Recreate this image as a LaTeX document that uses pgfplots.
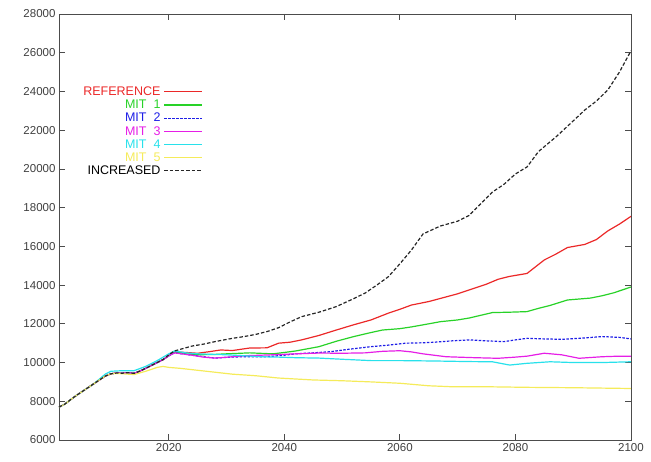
\documentclass[border=0pt]{standalone}
\usepackage{pgfplots}
\pgfplotsset{compat=1.18}
\usepackage{fontspec}
\setmainfont{Liberation Sans}
\definecolor{cred}{RGB}{235,40,40}
\definecolor{cgreen}{RGB}{40,210,40}
\definecolor{cblue}{RGB}{30,30,230}
\definecolor{cmag}{RGB}{230,30,230}
\definecolor{ccyan}{RGB}{40,225,235}
\definecolor{cyel}{RGB}{245,235,90}
\begin{document}
\begin{tikzpicture}
\useasboundingbox (-59pt,-21pt) rectangle (592pt,440pt);
\begin{axis}[
  scale only axis,
  width=572pt, height=426pt,
  at={(0,0)}, anchor=south west,
  xmin=2001, xmax=2100, ymin=6000, ymax=28000,
  xtick={2020,2040,2060,2080,2100},
  ytick={6000,8000,...,28000},
  tick align=inside,
  major tick length=6pt,
  axis line style={black!70, line width=0.9pt},
  tick style={black!70, line width=0.8pt},
  xticklabel style={font=\fontsize{11.5}{12}\selectfont, text=black!75},
  yticklabel style={font=\fontsize{11.5}{12}\selectfont, text=black!75},
  /pgf/number format/assume math mode=true,
  /pgf/number format/1000 sep={},
  scaled ticks=false,
  legend style={at={(rel axis cs:0.037,0.832)}, anchor=north west, draw=none, fill=none,
    font=\fontsize{12.5}{13}\selectfont, row sep=1pt, inner sep=0pt,
    nodes={inner xsep=3pt, inner ysep=1pt}},
  legend cell align=right,
  legend plot pos=right,
  legend image code/.code={\draw[#1,/tikz/.search also={/pgfplots}] (0pt,0pt) -- (38pt,0pt);},
  every axis plot/.append style={line width=1.2pt},
]
% REFERENCE
\addplot[cred] coordinates {(2001,7700)(2002,7850)(2003,8080)(2004,8300)(2005,8500)(2006,8700)(2007,8900)(2008,9100)(2009,9300)(2010,9420)(2011,9460)(2012,9450)(2013,9480)(2014,9440)(2015,9560)(2016,9700)(2017,9850)(2018,10000)(2019,10150)(2020,10350)(2021,10550)
(2023,10520)(2025,10480)(2027,10560)(2029,10650)(2031,10620)(2034,10750)(2037,10760)(2039,11000)(2041,11050)(2043,11170)(2046,11400)(2049,11680)(2052,11950)(2055,12200)(2058,12550)(2060,12750)(2062,12970)(2065,13150)(2067,13310)(2070,13550)(2072,13750)(2075,14050)(2077,14300)(2079,14450)(2082,14600)(2085,15300)(2087,15600)(2089,15940)(2092,16100)(2094,16350)(2096,16800)(2098,17150)(2100,17550)};
\addlegendentry{\textcolor{cred}{REFERENCE}}
% MIT 1
\addplot[cgreen] coordinates {(2001,7700)(2002,7850)(2003,8080)(2004,8300)(2005,8500)(2006,8700)(2007,8900)(2008,9100)(2009,9300)(2010,9420)(2011,9460)(2012,9450)(2013,9480)(2014,9440)(2015,9560)(2016,9700)(2017,9850)(2018,10000)(2019,10150)(2020,10350)(2021,10550)
(2023,10450)(2025,10400)(2028,10420)(2030,10450)(2034,10500)(2038,10450)(2040,10520)(2042,10600)(2046,10820)(2049,11100)(2052,11340)(2055,11550)(2057,11680)(2060,11750)(2062,11840)(2065,12000)(2067,12110)(2070,12200)(2072,12300)(2076,12580)(2079,12600)(2082,12630)(2084,12800)(2086,12950)(2089,13230)(2091,13280)(2093,13330)(2095,13450)(2097,13600)(2100,13900)};
\addlegendentry{\textcolor{cgreen}{MIT\ \ 1}}
% MIT 2
\addplot[cblue, dash pattern=on 2.5pt off 1.5pt] coordinates {(2001,7700)(2002,7850)(2003,8080)(2004,8300)(2005,8500)(2006,8700)(2007,8900)(2008,9100)(2009,9300)(2010,9420)(2011,9460)(2012,9450)(2013,9480)(2014,9440)(2015,9560)(2016,9700)(2017,9850)(2018,10000)(2019,10150)(2020,10350)(2021,10500)
(2024,10380)(2026,10300)(2028,10230)(2031,10280)(2033,10300)(2037,10300)(2040,10380)(2042,10450)(2045,10500)(2048,10560)(2051,10680)(2055,10820)(2058,10900)(2061,11000)(2064,11020)(2066,11050)(2069,11120)(2072,11170)(2075,11120)(2078,11080)(2080,11170)(2082,11250)(2085,11220)(2088,11200)(2091,11250)(2095,11340)(2098,11300)(2100,11220)};
\addlegendentry{\textcolor{cblue}{MIT\ \ 2}}
% MIT 3
\addplot[cmag] coordinates {(2001,7700)(2002,7850)(2003,8080)(2004,8300)(2005,8500)(2006,8700)(2007,8900)(2008,9100)(2009,9300)(2010,9420)(2011,9460)(2012,9450)(2013,9480)(2014,9440)(2015,9560)(2016,9700)(2017,9850)(2018,10000)(2019,10150)(2020,10350)(2021,10500)
(2024,10380)(2026,10280)(2028,10230)(2031,10300)(2033,10350)(2038,10400)(2042,10450)(2046,10490)(2050,10480)(2054,10500)(2057,10580)(2060,10610)(2062,10550)(2064,10450)(2068,10300)(2073,10250)(2077,10220)(2080,10280)(2082,10330)(2085,10480)(2088,10400)(2091,10220)(2093,10260)(2095,10300)(2098,10330)(2100,10330)};
\addlegendentry{\textcolor{cmag}{MIT\ \ 3}}
% MIT 4
\addplot[ccyan] coordinates {(2001,7700)(2002,7850)(2003,8080)(2004,8300)(2005,8500)(2006,8700)(2007,8900)(2008,9150)(2009,9400)(2010,9550)(2012,9580)(2014,9580)(2016,9800)(2018,10100)(2020,10450)(2021,10600)
(2023,10500)(2025,10450)(2028,10420)(2030,10400)(2033,10350)(2036,10300)(2039,10280)(2042,10250)(2046,10230)(2050,10170)(2055,10100)(2060,10100)(2066,10080)(2072,10050)(2076,10040)(2079,9870)(2082,9960)(2086,10040)(2090,10000)(2095,10000)(2100,10040)};
\addlegendentry{\textcolor{ccyan}{MIT\ \ 4}}
% MIT 5
\addplot[cyel] coordinates {(2001,7700)(2002,7850)(2003,8080)(2004,8300)(2005,8500)(2006,8700)(2007,8900)(2008,9100)(2009,9300)(2010,9420)(2011,9440)(2012,9420)(2013,9400)(2014,9380)(2016,9550)(2018,9750)(2019,9800)(2020,9750)
(2022,9700)(2025,9600)(2028,9500)(2031,9400)(2035,9320)(2039,9200)(2042,9150)(2045,9100)(2050,9060)(2055,9000)(2060,8930)(2065,8800)(2069,8750)(2075,8750)(2082,8720)(2090,8700)(2100,8660)};
\addlegendentry{\textcolor{cyel}{MIT\ \ 5}}
% INCREASED
\addplot[black!85, dash pattern=on 3.5pt off 2pt] coordinates {(2001,7700)(2002,7850)(2003,8080)(2004,8300)(2005,8500)(2006,8700)(2007,8900)(2008,9100)(2009,9300)(2010,9420)(2011,9460)(2012,9450)(2013,9480)(2014,9440)(2015,9560)(2016,9700)(2017,9850)(2018,10000)(2019,10150)(2020,10400)(2021,10600)
(2024,10850)(2026,10950)(2028,11080)(2031,11250)(2033,11340)(2035,11450)(2037,11600)(2039,11800)(2041,12100)(2043,12370)(2046,12600)(2049,12890)(2052,13300)(2054,13590)(2056,14000)(2058,14430)(2060,15100)(2062,15810)(2064,16640)(2067,17050)(2070,17300)(2072,17600)(2074,18200)(2076,18800)(2078,19200)(2080,19740)(2082,20100)(2084,20900)(2087,21650)(2089,22200)(2092,23040)(2094,23500)(2096,24080)(2098,25000)(2100,26100)};
\addlegendentry{\textcolor{black}{INCREASED}}
\end{axis}
\end{tikzpicture}
\end{document}
